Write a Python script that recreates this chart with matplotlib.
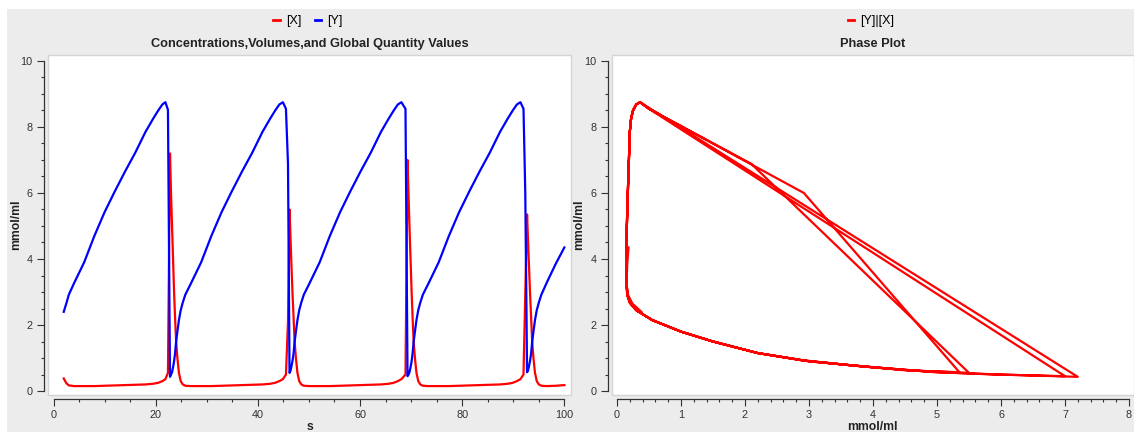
import numpy as np
import matplotlib
matplotlib.use("Agg")
import matplotlib.pyplot as plt
from matplotlib.patches import Rectangle
from matplotlib.lines import Line2D
from matplotlib.ticker import MultipleLocator

plt.rcParams['font.family'] = ['Liberation Sans', 'DejaVu Sans']

# time course samples (s), [X] and [Y] in mmol/ml
t = [2.0, 2.5, 3.0, 4.0, 6.0, 8.0, 10.0, 12.0, 14.0, 16.0, 18.0, 19.5, 20.5, 21.3, 21.9, 22.4,
     22.8, 23.0, 23.2, 23.4, 23.6, 23.8, 24.0, 24.25, 24.55, 24.9, 25.3, 25.8,
     26.9, 28.9, 30.9, 32.9, 34.9, 36.9, 38.9, 40.9, 42.4, 43.4, 44.2, 44.9, 45.5, 45.9,
     46.2, 46.4, 46.6, 46.8, 47.0, 47.2, 47.45, 47.75, 48.1, 48.5, 49.0,
     50.1, 52.1, 54.1, 56.1, 58.1, 60.1, 62.1, 64.1, 65.6, 66.6, 67.4, 68.1, 68.9,
     69.3, 69.5, 69.7, 69.9, 70.1, 70.3, 70.5, 70.75, 71.05, 71.4, 71.8, 72.3,
     73.4, 75.4, 77.4, 79.4, 81.4, 83.4, 85.4, 87.4, 88.9, 89.9, 90.7, 91.4, 92.0, 92.35,
     92.7, 92.9, 93.1, 93.3, 93.5, 93.7, 93.95, 94.25, 94.6, 95.0, 95.5,
     96.6, 98.3, 100.0]
x_conc = [0.38, 0.24, 0.17, 0.15, 0.15, 0.15, 0.16, 0.17, 0.18, 0.19, 0.2, 0.22, 0.25, 0.3, 0.36, 0.55,
          7.2, 6.0, 5.0, 4.0, 3.0, 2.2, 1.5, 1.0, 0.55, 0.3, 0.2, 0.16,
          0.15, 0.15, 0.15, 0.16, 0.17, 0.18, 0.19, 0.2, 0.22, 0.25, 0.3, 0.36, 0.5, 2.1,
          5.5, 4.6, 3.7, 2.9, 2.2, 1.5, 1.0, 0.55, 0.3, 0.2, 0.16,
          0.15, 0.15, 0.15, 0.16, 0.17, 0.18, 0.19, 0.2, 0.22, 0.25, 0.3, 0.36, 0.5,
          7.0, 5.9, 4.9, 3.95, 3.0, 2.2, 1.5, 1.0, 0.55, 0.3, 0.2, 0.16,
          0.15, 0.15, 0.15, 0.16, 0.17, 0.18, 0.19, 0.2, 0.22, 0.25, 0.3, 0.36, 0.5, 2.92,
          5.35, 4.5, 3.7, 2.9, 2.2, 1.5, 1.0, 0.55, 0.3, 0.2, 0.16,
          0.15, 0.16, 0.18]
y_conc = [2.4, 2.65, 2.92, 3.26, 3.9, 4.7, 5.42, 6.05, 6.65, 7.22, 7.85, 8.25, 8.5, 8.68, 8.75, 8.52,
          0.43, 0.5, 0.57, 0.72, 0.9, 1.15, 1.5, 1.8, 2.15, 2.45, 2.68, 2.92,
          3.26, 3.9, 4.7, 5.42, 6.05, 6.65, 7.22, 7.85, 8.25, 8.5, 8.68, 8.75, 8.55, 6.88,
          0.55, 0.62, 0.77, 0.93, 1.15, 1.5, 1.8, 2.15, 2.45, 2.68, 2.92,
          3.26, 3.9, 4.7, 5.42, 6.05, 6.65, 7.22, 7.85, 8.25, 8.5, 8.68, 8.75, 8.55,
          0.45, 0.5, 0.58, 0.73, 0.9, 1.15, 1.5, 1.8, 2.15, 2.45, 2.68, 2.92,
          3.26, 3.9, 4.7, 5.42, 6.05, 6.65, 7.22, 7.85, 8.25, 8.5, 8.68, 8.75, 8.55, 6.0,
          0.57, 0.63, 0.77, 0.93, 1.15, 1.5, 1.8, 2.15, 2.45, 2.68, 2.92,
          3.3, 3.85, 4.35]

W, H = 1134, 432
fig = plt.figure(figsize=(W / 100, H / 100), dpi=100)
fig.patch.set_facecolor('white')
fig.patches.append(Rectangle((7 / W, 0), 1, 1 - 9 / H, transform=fig.transFigure,
                             facecolor='#ececec', edgecolor='none', zorder=-10))

tick_col = '#333333'


def px_axes(x0, x1, y0, y1):
    return fig.add_axes([x0 / W, 1 - y1 / H, (x1 - x0) / W, (y1 - y0) / H])


def style_axes(ax, xmax, xmajor, xminor):
    ax.set_facecolor('white')
    for s in ['top', 'right']:
        ax.spines[s].set_visible(False)
    for s in ['left', 'bottom']:
        ax.spines[s].set_position(('outward', 3))
        ax.spines[s].set_color(tick_col)
        ax.spines[s].set_linewidth(0.9)
    ax.spines['left'].set_bounds(0, 10)
    ax.spines['bottom'].set_bounds(0, xmax)
    ax.add_patch(Rectangle((0, 0), 1, 1, transform=ax.transAxes, fill=False,
                           edgecolor='#d4d4d4', linewidth=1, zorder=0.5, clip_on=False))
    ax.xaxis.set_major_locator(MultipleLocator(xmajor))
    ax.xaxis.set_minor_locator(MultipleLocator(xminor))
    ax.yaxis.set_major_locator(MultipleLocator(2))
    ax.yaxis.set_minor_locator(MultipleLocator(0.5))
    ax.tick_params(which='major', length=5, width=0.8, color=tick_col, labelsize=7.8,
                   labelcolor=tick_col, pad=3)
    ax.tick_params(which='minor', length=2.5, width=0.8, color=tick_col)


# left: time course
ax1 = px_axes(48, 571, 55, 395)
ax1.plot(t, x_conc, color='#ff0000', lw=1.6, label='[X]')
ax1.plot(t, y_conc, color='#0000ff', lw=1.6, label='[Y]')
ax1.set_xlim(-1.08, 101.3)
ax1.set_ylim(-0.12, 10.18)
style_axes(ax1, 100, 20, 5)

# right: phase plot
ax2 = px_axes(612, 1134, 55, 395)
ax2.plot(x_conc, y_conc, color='#ff0000', lw=1.6, label='[Y]|[X]')
ax2.set_xlim(-0.078, 8.078)
ax2.set_ylim(-0.12, 10.18)
style_axes(ax2, 8, 1, 0.2)

title_kw = dict(fontsize=9.2, fontweight='bold', color='#222222', ha='center', va='center')
lab_kw = dict(fontsize=8.8, fontweight='bold', color='#222222', ha='center', va='center')
fig.text(310 / W, 1 - 44 / H, 'Concentrations,Volumes,and Global Quantity Values', **title_kw)
fig.text(873 / W, 1 - 44 / H, 'Phase Plot', **title_kw)
fig.text(310 / W, 1 - 427 / H, 's', **lab_kw)
fig.text(872 / W, 1 - 427 / H, 'mmol/ml', **lab_kw)
fig.text(16 / W, 1 - 225 / H, 'mmol/ml', rotation=90, **lab_kw)
fig.text(579 / W, 1 - 225 / H, 'mmol/ml', rotation=90, **lab_kw)

leg_kw = dict(loc='center', frameon=False, fontsize=9, handlelength=0.5, handletextpad=0.5,
              columnspacing=1.1, bbox_transform=fig.transFigure)
h1 = [Line2D([], [], color='#ff0000', lw=2), Line2D([], [], color='#0000ff', lw=2)]
fig.legend(h1, ['[X]', '[Y]'], ncol=2, bbox_to_anchor=(308 / W, 1 - 21 / H), **leg_kw)
fig.legend([Line2D([], [], color='#ff0000', lw=2)], ['[Y]|[X]'], ncol=1,
           bbox_to_anchor=(871 / W, 1 - 21 / H), **leg_kw)

fig.savefig('out.png', dpi=100, facecolor=fig.get_facecolor())
